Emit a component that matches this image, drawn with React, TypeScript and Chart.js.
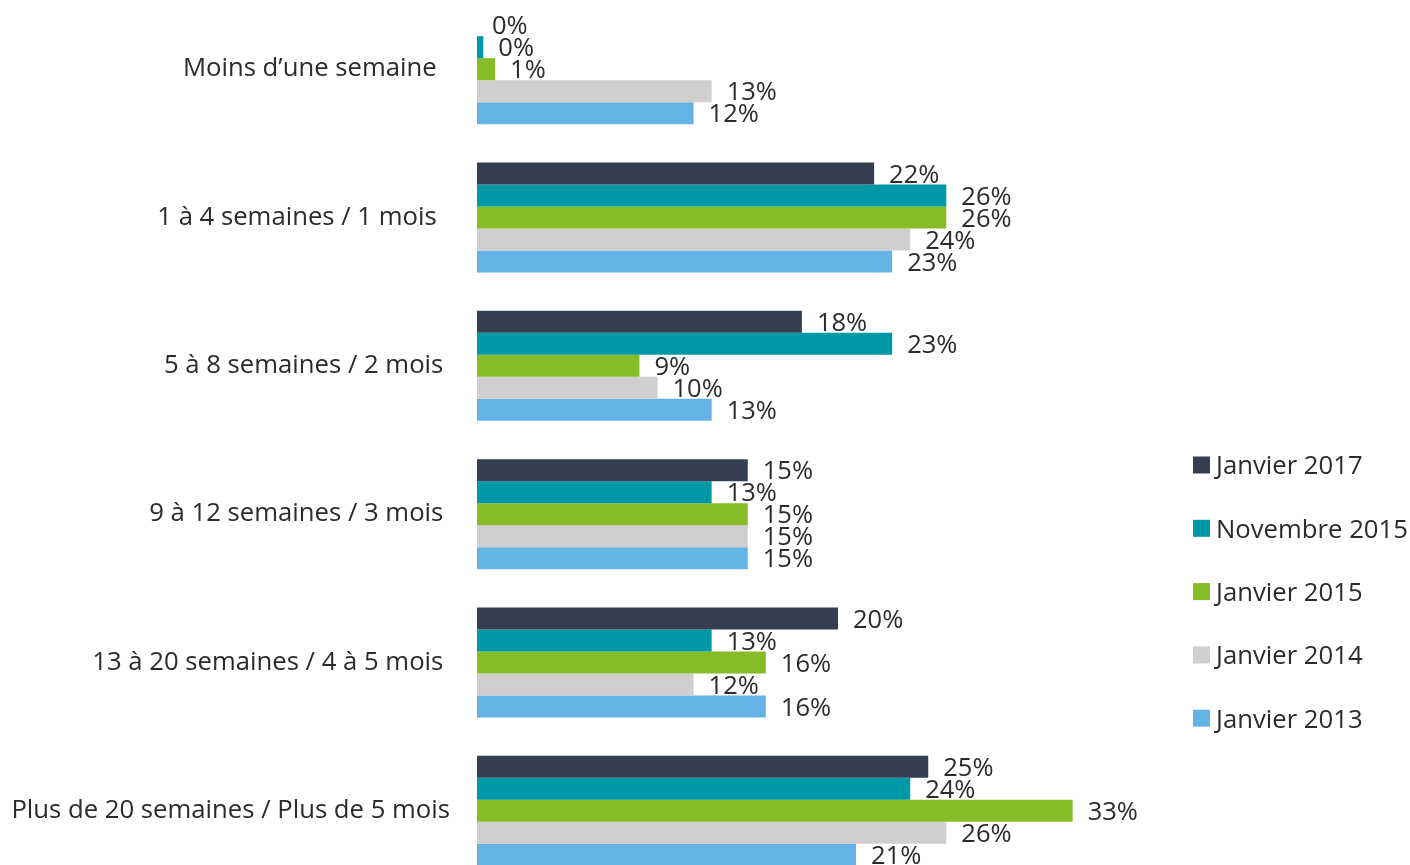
import React, { useEffect, useRef } from "react";
import { Chart, registerables } from "chart.js";

Chart.register(...registerables);

const categories = [
  "Moins d\u2019une semaine  ",
  "1 à 4 semaines / 1 mois  ",
  "5 à 8 semaines / 2 mois ",
  "9 à 12 semaines / 3 mois ",
  "13 à 20 semaines / 4 à 5 mois ",
  "Plus de 20 semaines / Plus de 5 mois",
];

const seriesNames = ["Janvier 2017", "Novembre 2015", "Janvier 2015", "Janvier 2014", "Janvier 2013"];

const janvier2017 = [0, 22, 18, 15, 20, 25];
const novembre2015 = [0.35, 26, 23, 13, 13, 24];
const janvier2015 = [1, 26, 9, 15, 16, 33];
const janvier2014 = [13, 24, 10, 15, 12, 26];
const janvier2013 = [12, 23, 13, 15, 16, 21];

const seriesValues = [janvier2017, novembre2015, janvier2015, janvier2014, janvier2013];
const seriesColors = ["#333F50", "#0097A7", "#86BC25", "#D0CECE", "#63B4E4"];

const FONT = "'Open Sans', sans-serif";
const TEXT = "#2B2B2B";

const labelsPlugin = {
  id: "barLabels",
  afterDatasetsDraw(chart: any) {
    const ctx = chart.ctx;
    ctx.save();
    ctx.font = `25.5px ${FONT}`;
    ctx.fillStyle = TEXT;
    ctx.textAlign = "left";
    ctx.textBaseline = "middle";
    chart.data.datasets.forEach((ds: any, di: number) => {
      const meta = chart.getDatasetMeta(di);
      meta.data.forEach((bar: any, i: number) => {
        const v = ds.data[i];
        ctx.fillText(`${Math.round(v)}%`, bar.x + 15, bar.y + 2);
      });
    });
    ctx.restore();
  },
};

const legendPlugin = {
  id: "customLegend",
  afterDraw(chart: any) {
    const ctx = chart.ctx;
    ctx.save();
    ctx.font = `25.7px ${FONT}`;
    ctx.textAlign = "left";
    ctx.textBaseline = "middle";
    chart.data.datasets.forEach((ds: any, i: number) => {
      const cy = 470 + i * 63.3;
      ctx.fillStyle = ds.backgroundColor;
      ctx.fillRect(1193, cy - 8.5, 17, 17);
      ctx.fillStyle = TEXT;
      ctx.fillText(ds.label, 1216, cy + 2);
    });
    ctx.restore();
  },
};

export default function App() {
  const ref = useRef<HTMLCanvasElement | null>(null);

  useEffect(() => {
    if (!ref.current) return;
    const chart = new Chart(ref.current, {
      type: "bar",
      data: {
        labels: categories,
        datasets: seriesNames.map((name, i) => ({
          label: name,
          data: seriesValues[i],
          backgroundColor: seriesColors[i],
          borderWidth: 0,
          barPercentage: 1,
          categoryPercentage: 0.7416,
        })),
      },
      options: {
        indexAxis: "y",
        animation: false,
        responsive: false,
        maintainAspectRatio: false,
        layout: { padding: { left: 0, right: 211, top: 0, bottom: 0 } },
        plugins: {
          legend: { display: false },
          tooltip: { enabled: false },
        },
        scales: {
          x: {
            display: false,
            min: 0,
            max: 40,
          },
          y: {
            grid: { display: false, drawTicks: false },
            border: { display: false },
            ticks: {
              font: { family: FONT, size: 25.7 },
              color: TEXT,
              padding: 27,
            },
            afterFit: (scale: any) => {
              scale.width = 477;
              scale.paddingTop = 0;
              scale.paddingBottom = 0;
            },
          },
        },
      },
      plugins: [labelsPlugin, legendPlugin],
    } as any);
    return () => chart.destroy();
  }, []);

  return (
    <div
      style={{
        position: "fixed",
        left: 0,
        top: 0,
        width: 1410,
        height: 865,
        overflow: "hidden",
        background: "#fff",
      }}
    >
      <canvas
        ref={ref}
        width={1410}
        height={890}
        style={{ position: "absolute", left: 0, top: -5, width: 1410, height: 890 }}
      />
    </div>
  );
}
